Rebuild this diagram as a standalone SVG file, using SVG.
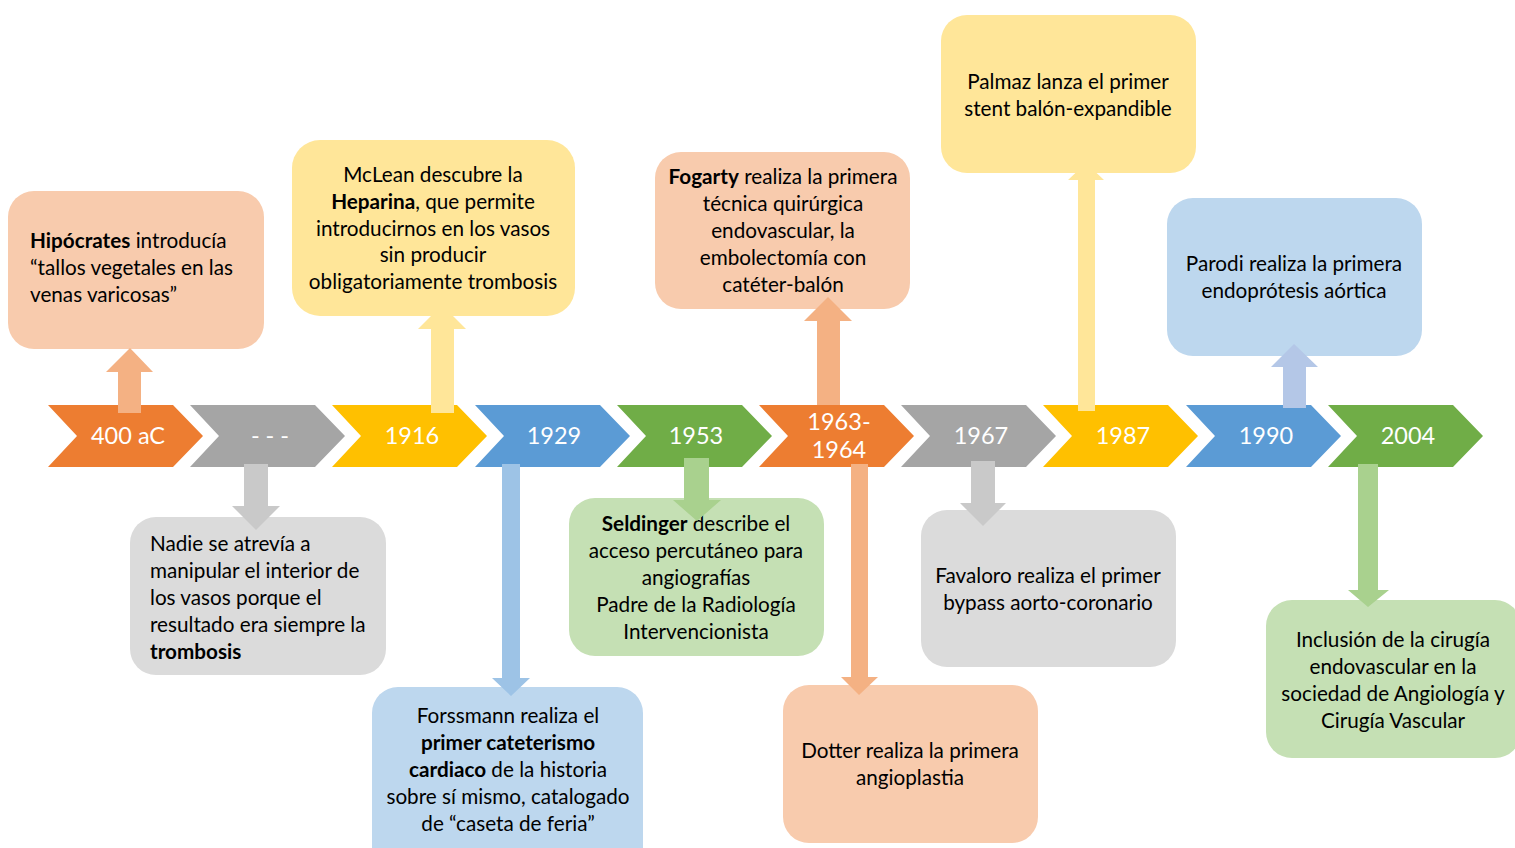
<svg xmlns="http://www.w3.org/2000/svg" width="1515" height="848" viewBox="0 0 1515 848">
<style>
.yr{font-family:Lato,"Open Sans","Liberation Sans",sans-serif;font-size:23.5px;fill:#FFFFFF;text-anchor:middle}
.t{font-family:Lato,"Open Sans","Liberation Sans",sans-serif;font-size:20.7px;fill:#000000}
.c{text-anchor:middle}
.b{font-weight:bold}
.box{stroke:none}
</style>
<rect width="1515" height="848" fill="#FFFFFF"/>
<g id="timeline">
<g id="chev-400ac"><polygon points="48,405 173,405 203,436 173,467 48,467 77,436" fill="#ED7D31"/><text class="yr" x="128" y="444">400 aC</text></g>
<g id="chev-dash"><polygon points="190,405 315,405 345,436 315,467 190,467 219,436" fill="#A5A5A5"/><text class="yr" x="270" y="444">- - -</text></g>
<g id="chev-1916"><polygon points="332,405 457,405 487,436 457,467 332,467 361,436" fill="#FFC000"/><text class="yr" x="412" y="444">1916</text></g>
<g id="chev-1929"><polygon points="475,405 600,405 630,436 600,467 475,467 504,436" fill="#5B9BD5"/><text class="yr" x="554" y="444">1929</text></g>
<g id="chev-1953"><polygon points="617,405 742,405 772,436 742,467 617,467 646,436" fill="#70AD47"/><text class="yr" x="696" y="444">1953</text></g>
<g id="chev-1963"><polygon points="759,405 884,405 914,436 884,467 759,467 788,436" fill="#ED7D31"/><text class="yr" x="839" y="430">1963-</text><text class="yr" x="839" y="458">1964</text></g>
<g id="chev-1967"><polygon points="901,405 1026,405 1056,436 1026,467 901,467 930,436" fill="#A5A5A5"/><text class="yr" x="981" y="444">1967</text></g>
<g id="chev-1987"><polygon points="1043,405 1168,405 1198,436 1168,467 1043,467 1072,436" fill="#FFC000"/><text class="yr" x="1123" y="444">1987</text></g>
<g id="chev-1990"><polygon points="1186,405 1311,405 1341,436 1311,467 1186,467 1215,436" fill="#5B9BD5"/><text class="yr" x="1266" y="444">1990</text></g>
<g id="chev-2004"><polygon points="1328,405 1453,405 1483,436 1453,467 1328,467 1357,436" fill="#70AD47"/><text class="yr" x="1408" y="444">2004</text></g>
</g>
<g id="box-hipocrates">
<rect class="box" x="8" y="191" width="256" height="158" rx="26" fill="#F8CBAD"/>
<text class="t" x="30" y="248"><tspan class="b">Hipócrates</tspan> introducía</text>
<text class="t" x="30" y="275">“tallos vegetales en las</text>
<text class="t" x="30" y="302">venas varicosas”</text>
</g>
<g id="box-nadie">
<rect class="box" x="130" y="517" width="256" height="158" rx="26" fill="#DBDBDB"/>
<text class="t" x="150" y="551">Nadie se atrevía a</text>
<text class="t" x="150" y="578">manipular el interior de</text>
<text class="t" x="150" y="605">los vasos porque el</text>
<text class="t" x="150" y="632">resultado era siempre la</text>
<text class="t b" x="150" y="659">trombosis</text>
</g>
<g id="box-mclean">
<rect class="box" x="292" y="140" width="283" height="176" rx="28" fill="#FFE699"/>
<text class="t c" x="433" y="182">McLean descubre la</text>
<text class="t c" x="433" y="209"><tspan class="b">Heparina</tspan>, que permite</text>
<text class="t c" x="433" y="236">introducirnos en los vasos</text>
<text class="t c" x="433" y="262">sin producir</text>
<text class="t c" x="433" y="289">obligatoriamente trombosis</text>
</g>
<g id="box-forssmann">
<rect class="box" x="372" y="687" width="271" height="190" rx="26" fill="#BDD7EE"/>
<text class="t c" x="508" y="723">Forssmann realiza el</text>
<text class="t c b" x="508" y="750">primer cateterismo</text>
<text class="t c" x="508" y="777"><tspan class="b">cardiaco</tspan> de la historia</text>
<text class="t c" x="508" y="804">sobre sí mismo, catalogado</text>
<text class="t c" x="508" y="831">de “caseta de feria”</text>
</g>
<g id="box-seldinger">
<rect class="box" x="569" y="498" width="255" height="158" rx="26" fill="#C5E0B4"/>
<text class="t c" x="696" y="531"><tspan class="b">Seldinger</tspan> describe el</text>
<text class="t c" x="696" y="558">acceso percutáneo para</text>
<text class="t c" x="696" y="585">angiografías</text>
<text class="t c" x="696" y="612">Padre de la Radiología</text>
<text class="t c" x="696" y="639">Intervencionista</text>
</g>
<g id="box-fogarty">
<rect class="box" x="655" y="152" width="255" height="157" rx="26" fill="#F8CBAD"/>
<text class="t c" x="783" y="184"><tspan class="b">Fogarty</tspan> realiza la primera</text>
<text class="t c" x="783" y="211">técnica quirúrgica</text>
<text class="t c" x="783" y="238">endovascular, la</text>
<text class="t c" x="783" y="265">embolectomía con</text>
<text class="t c" x="783" y="292">catéter-balón</text>
</g>
<g id="box-dotter">
<rect class="box" x="783" y="685" width="255" height="158" rx="26" fill="#F8CBAD"/>
<text class="t c" x="910" y="758">Dotter realiza la primera</text>
<text class="t c" x="910" y="785">angioplastia</text>
</g>
<g id="box-favaloro">
<rect class="box" x="921" y="510" width="255" height="157" rx="26" fill="#DBDBDB"/>
<text class="t c" x="1048" y="583">Favaloro realiza el primer</text>
<text class="t c" x="1048" y="610">bypass aorto-coronario</text>
</g>
<g id="box-palmaz">
<rect class="box" x="941" y="15" width="255" height="158" rx="26" fill="#FFE699"/>
<text class="t c" x="1068" y="89">Palmaz lanza el primer</text>
<text class="t c" x="1068" y="116">stent balón-expandible</text>
</g>
<g id="box-parodi">
<rect class="box" x="1167" y="198" width="255" height="158" rx="26" fill="#BDD7EE"/>
<text class="t c" x="1294" y="271">Parodi realiza la primera</text>
<text class="t c" x="1294" y="298">endoprótesis aórtica</text>
</g>
<g id="box-inclusion">
<rect class="box" x="1266" y="600" width="255" height="158" rx="26" fill="#C5E0B4"/>
<text class="t c" x="1393" y="647">Inclusión de la cirugía</text>
<text class="t c" x="1393" y="674">endovascular en la</text>
<text class="t c" x="1393" y="701">sociedad de Angiología y</text>
<text class="t c" x="1393" y="728">Cirugía Vascular</text>
</g>
<g id="connectors">
<polygon points="118,413 118,372 106,372 130,348 153,372 141,372 141,413" fill="#F4B183"/>
<polygon points="244,464 244,506 232,506 256,530 280,506 268,506 268,464" fill="#C9C9C9"/>
<polygon points="431,413 431,329 418,329 442,305 466,329 454,329 454,413" fill="#FFE699"/>
<polygon points="502,464 502,678 492,678 511,696 530,678 520,678 520,464" fill="#9DC3E6"/>
<polygon points="684,458 684,500 673,500 697,521 721,500 709,500 709,458" fill="#A9D18E"/>
<polygon points="817,405 817,321 804,321 828,297 852,321 840,321 840,405" fill="#F4B183"/>
<polygon points="851,464 851,677 841,677 859,695 878,677 868,677 868,464" fill="#F4B183"/>
<polygon points="971,461 971,503 960,503 983,526 1006,503 995,503 995,461" fill="#C9C9C9"/>
<polygon points="1078,411 1078,180 1068,180 1086,163 1104,180 1095,180 1095,411" fill="#FFE699"/>
<polygon points="1283,408 1283,367 1271,367 1294,344 1318,367 1306,367 1306,408" fill="#B4C7E7"/>
<polygon points="1358,464 1358,590 1348,590 1368,607 1389,590 1378,590 1378,464" fill="#A9D18E"/>
</g>
</svg>
